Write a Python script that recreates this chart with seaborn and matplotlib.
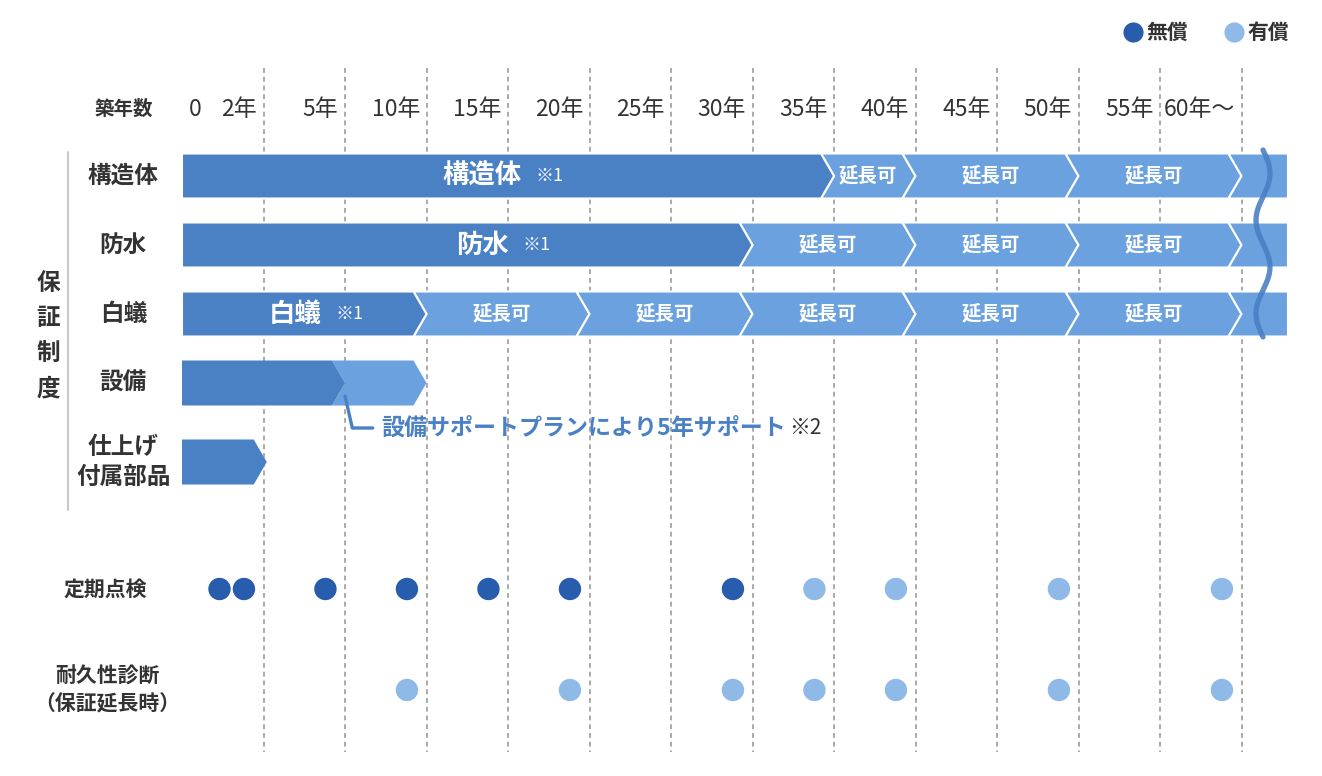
import numpy as np
import pandas as pd
import matplotlib
matplotlib.use("Agg")
import matplotlib.pyplot as plt
from matplotlib.patches import Polygon
from matplotlib.lines import Line2D
import seaborn as sns

# データ
tick_years = [0, 2, 5, 10, 15, 20, 25, 30, 35, 40, 45, 50, 55, 60]
tick_labels = ["0", "2年", "5年", "10年", "15年", "20年", "25年", "30年",
               "35年", "40年", "45年", "50年", "55年", "60年〜"]

rows = ["構造体", "防水", "白蟻", "設備", "仕上げ\n付属部品"]
free_end = [35, 30, 10, 5, 2]
free_text = ["構造体", "防水", "白蟻", None, None]
paid_bounds = [
    [35, 40, 50, 60],
    [30, 40, 50, 60],
    [10, 20, 30, 40, 50, 60],
    [5, 10],
    [],
]
paid_open = [True, True, True, False, False]
paid_text = "延長可"

inspect_free = [1, 2, 5, 10, 15, 20, 30]
inspect_paid = [35, 40, 50, 60]
diag_paid = [10, 20, 30, 35, 40, 50, 60]

pay_kinds = ["無償", "有償"]

# 色
c_bar_free = "#4a80c4"
c_bar_paid = "#6aa1de"
c_dot_free = "#285cad"
c_dot_paid = "#8fbae7"
c_text = "#333333"
c_grid = "#aaaaaa"

# レイアウト (x: 列単位, y: ピクセル)
col_px = 81.5
x0_px = 182
row_y = [176, 245, 314, 383, 462]
bar_h = 45
arrow_d = 0.16
bar_end = 13.57
label_x = -0.72
free_label_x = [3.68, 3.69, 1.39]


def col(year):
    return np.interp(year, tick_years, np.arange(len(tick_years)))


# 目盛りラベルの中心位置 (点の位置にも使う)
label_pos = [0.16] + [i - 0.24 for i in range(1, len(tick_years))]


def dot_col(year):
    return np.interp(year, tick_years, label_pos)


def chevron(a, b, yc, notch, point):
    top, bot = yc - bar_h / 2, yc + bar_h / 2
    la = a - arrow_d if notch else a
    rb = b - arrow_d if point else b
    pts = [(la, top), (rb, top)]
    if point:
        pts.append((b, yc))
    pts += [(rb, bot), (la, bot)]
    if notch:
        pts.append((a, yc))
    return pts


sns.set_theme(style="white")
plt.rcParams["font.family"] = ["Noto Sans CJK JP", "DejaVu Sans"]

fig = plt.figure(figsize=(13.22, 7.76), dpi=100)
ax = fig.add_axes([0, 0, 1, 1])
ax.set_xlim(-x0_px / col_px, (1322 - x0_px) / col_px)
ax.set_ylim(776, 0)
ax.axis("off")

# 縦の点線
for i in range(1, len(tick_years)):
    ax.plot([i, i], [68, 752], color=c_grid, lw=1.4, ls=(0, (2.5, 2)), zorder=0)

# 見出し
ax.text(label_x, 109, "築年数", ha="center", va="center", fontsize=14,
        fontweight="bold", color=c_text)
for i, lab in enumerate(tick_labels):
    if i == 0:
        ax.text(label_pos[0], 109, lab, ha="center", va="center", fontsize=16.5,
                color=c_text)
    else:
        ax.text(i - 0.08, 109, lab, ha="right", va="center", fontsize=16.5,
                color=c_text)

# 保証制度
ax.plot([-1.40, -1.40], [152, 510], color="#c8c8c8", lw=1.5)
for k, ch in enumerate("保証制度"):
    ax.text(-1.64, 283 + 35 * k, ch, ha="center", va="center", fontsize=17,
            fontweight="bold", color=c_text)

# 帯
for i, name in enumerate(rows):
    y = row_y[i]
    ax.text(label_x, y, name, ha="center", va="center", fontsize=17,
            fontweight="bold", color=c_text, linespacing=1.3)
    bounds = paid_bounds[i]
    ec = "white" if paid_open[i] else "none"
    segs = list(zip(bounds[:-1], bounds[1:]))
    for a, b in segs:
        ax.add_patch(Polygon(chevron(col(a), col(b), y, True, True),
                             fc=c_bar_paid, ec=ec, lw=1.5, zorder=2))
        if paid_open[i]:
            ax.text((col(a) + col(b) - arrow_d) / 2, y, paid_text, ha="center",
                    va="center", fontsize=14, fontweight="bold", color="white",
                    zorder=4)
    if paid_open[i]:
        ax.add_patch(Polygon(chevron(col(bounds[-1]), bar_end, y, True, False),
                             fc=c_bar_paid, ec=ec, lw=1.5, zorder=2))
    ax.add_patch(Polygon(chevron(0, col(free_end[i]) + (0.04 if i == 4 else 0), y, False, True),
                         fc=c_bar_free, ec=ec, lw=1.5, zorder=3))
    if free_text[i]:
        t = ax.text(free_label_x[i], y, free_text[i], ha="center", va="center",
                    fontsize=19, fontweight="bold", color="white", zorder=4)
        ax.annotate("※1", xy=(1, 0.5), xycoords=t, xytext=(10, 0),
                    textcoords="offset points", ha="left", va="center",
                    fontsize=13, color="white", zorder=4)

# 波線
wy = np.linspace(150, 337, 200)
wx = (1263 - x0_px) / col_px + 7 / col_px * np.sin(2 * np.pi * (wy - 150) / 93.5)
ax.plot(wx, wy, color="#4a80c4", lw=3.8, alpha=0.9, solid_capstyle="round", zorder=5)

# 設備サポート注記
ys = row_y[3]
ax.plot([2.0, 2.09, 2.34], [ys + 13, ys + 45, ys + 45], color=c_bar_free, lw=2.4,
        zorder=3)
t2 = ax.text(2.45, ys + 45, "設備サポートプランにより5年サポート", ha="left",
             va="center", fontsize=16.6, fontweight="bold", color=c_bar_free)
ax.annotate("※2", xy=(1, 0.5), xycoords=t2, xytext=(2, 0),
            textcoords="offset points", ha="left", va="center", fontsize=15,
            color=c_text)

# 点検・診断
dots = pd.DataFrame({
    "x": [dot_col(v) for v in inspect_free + inspect_paid + diag_paid],
    "y": [589] * (len(inspect_free) + len(inspect_paid)) + [690] * len(diag_paid),
    "kind": [pay_kinds[0]] * len(inspect_free) + [pay_kinds[1]] * len(inspect_paid)
            + [pay_kinds[1]] * len(diag_paid),
})
sns.scatterplot(data=dots, x="x", y="y", hue="kind",
                palette={pay_kinds[0]: c_dot_free, pay_kinds[1]: c_dot_paid},
                s=260, linewidth=0, legend=False, ax=ax, zorder=3)
ax.set_xlabel("")
ax.set_ylabel("")

ax.text(-0.94, 589, "定期点検", ha="center", va="center", fontsize=15,
        fontweight="bold", color=c_text)
ax.text(-0.92, 690, "耐久性診断\n（保証延長時）", ha="center", va="center",
        fontsize=15, fontweight="bold", color=c_text, linespacing=1.45)

# 凡例
handles = [Line2D([], [], marker="o", ls="", ms=14.5, mfc=c, mec="none")
           for c in (c_dot_free, c_dot_paid)]
fig.legend(handles, pay_kinds, loc="upper right", ncol=2, frameon=False,
           bbox_to_anchor=(1289 / 1322, 1 - 22 / 776), borderaxespad=0,
           borderpad=0, handlelength=1, handletextpad=0.15, columnspacing=1.7,
           prop={"size": 15, "weight": "bold"}, labelcolor=c_text)

fig.savefig("out.png", dpi=100)
